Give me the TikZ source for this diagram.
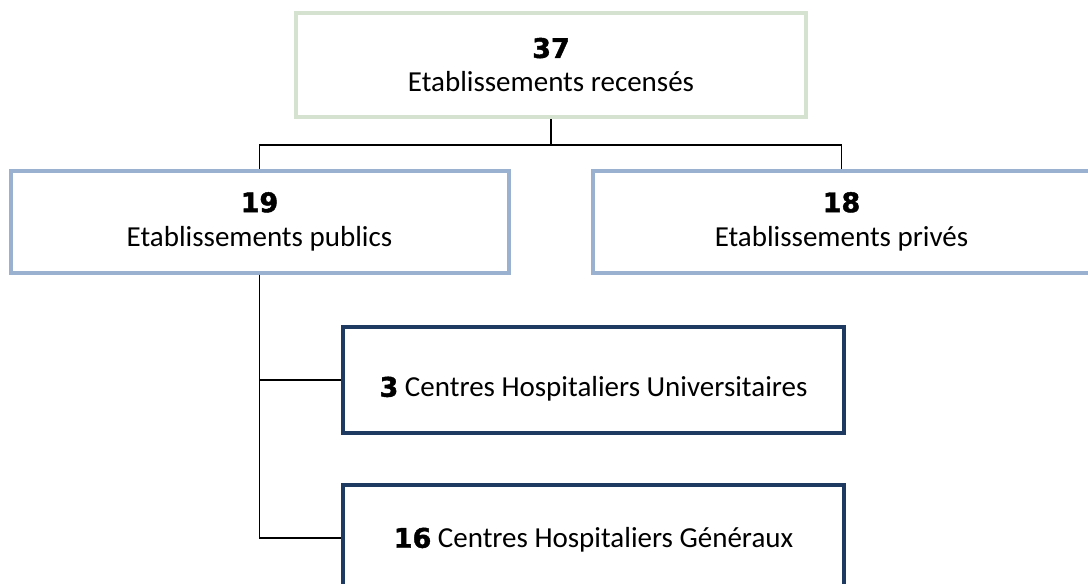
\documentclass[tikz,border=0pt]{standalone}
\usepackage{fontspec}
\setmainfont{Carlito}
\newfontfamily\figfont{DejaVu Sans}[BoldFeatures={FakeBold=1.6}]
\usepackage{xcolor}
\definecolor{boxgreen}{HTML}{D5E2CF}
\definecolor{boxblue}{HTML}{9AB1CF}
\definecolor{boxnavy}{HTML}{1F3A60}
\newcommand{\bignb}[1]{{\figfont\bfseries\fontsize{13.5}{17}\selectfont #1}}
\usetikzlibrary{calc}

\begin{document}
\begin{tikzpicture}[x=0.5pt, y=-0.5pt,
  every node/.style={font=\fontsize{14.5}{17}\selectfont, align=center},
  totalbox/.style={draw=boxgreen, line width=2pt, minimum width=255pt, minimum height=52pt},
  sectorbox/.style={draw=boxblue, line width=2pt, minimum width=249pt, minimum height=51pt},
  hospbox/.style={draw=boxnavy, line width=2pt, minimum width=250.5pt, minimum height=53pt},
  link/.style={draw=black, line width=0.9pt}]
  \useasboundingbox (0,0) rectangle (1088,584);

  \node[totalbox] (total) at (551,65) {\bignb{37}\\Etablissements recensés};
  \node[sectorbox] (pub) at (259.5,221.5) {\bignb{19}\\Etablissements publics};
  \node[sectorbox] (priv) at (841.5,221.5) {\bignb{18}\\Etablissements privés};

  \node[hospbox] (chu) at (593.5,380) {};
  \node (chutxt) at ([yshift=-4.5pt]chu.center) {\bignb{3} Centres Hospitaliers Universitaires};
  \node[hospbox] (chg) at (593.5,538) {};
  \node (chgtxt) at ([yshift=-1pt]chg.center) {\bignb{16} Centres Hospitaliers Généraux};

  % connectors
  \coordinate (split) at (551,145);
  \draw[link] (total.south) -- (split);
  \draw[link] (split) -| (pub.north);
  \draw[link] (split) -| (priv.north);
  \draw[link] (pub.south) |- (chu.west);
  \draw[link] (pub.south) |- (chg.west);
\end{tikzpicture}
\end{document}
